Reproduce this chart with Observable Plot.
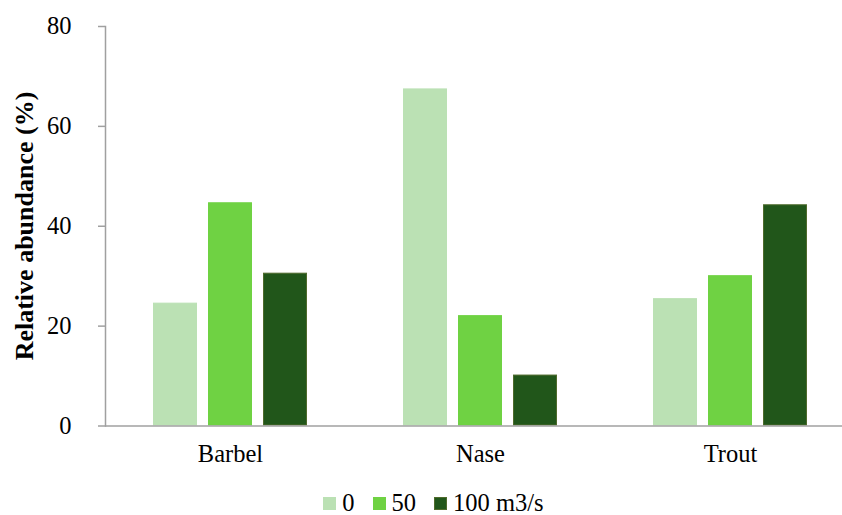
<!DOCTYPE html>
<html>
<head>
<meta charset="utf-8">
<script src="https://cdn.jsdelivr.net/npm/d3@7"></script>
<script src="https://cdn.jsdelivr.net/npm/@observablehq/plot@0.6"></script>
<style>
  html, body { margin: 0; padding: 0; background: #fff; overflow: hidden; }
  #chart { width: 842px; height: 515px; position: relative; overflow: hidden; }
  #chart svg { max-width: none !important; }
  .legend { position: absolute; left: 0; top: 492px; width: 842px; box-sizing: border-box; padding-left: 25px; display: flex; justify-content: center; font-family: "Liberation Serif", "Times New Roman", serif; font-size: 24.5px; line-height: 22px; color: #000; }
  .legend .item { display: flex; align-items: center; margin: 0 9px; }
  .legend .sw { width: 13px; height: 13px; margin-right: 6px; box-sizing: border-box; }
</style>
</head>
<body>
<div id="chart"></div>
<script>
const species = ["Barbel", "Nase", "Trout"];
const flows = ["0", "50", "100 m3/s"];
const values0 = [24.6, 67.5, 25.5];
const values50 = [44.7, 22.1, 30.1];
const values100 = [30.6, 10.2, 44.3];
const colors = ["#bbe1b4", "#6fd243", "#21561a"];
const strokes = ["#bbe1b4", "#6fd243", "#4f6b2c"];
const yTicks = [0, 20, 40, 60, 80];

const seriesVals = [values0, values50, values100];
const data = [];
species.forEach((s, i) => flows.forEach((f, j) => data.push({species: s, flow: f, value: seriesVals[j][i]})));

const plot = Plot.plot({
  width: 855,
  height: 475,
  marginLeft: 105,
  marginRight: 0,
  marginTop: 26,
  marginBottom: 49.5,
  style: {fontFamily: "'Liberation Serif', 'Times New Roman', serif", fontSize: "24.5px", color: "#000", background: "#fff", maxWidth: "none"},
  fx: {domain: species, padding: 0, label: null, axis: "bottom", tickSize: 0, tickPadding: 19},
  x: {domain: flows, paddingInner: 0.2, paddingOuter: 0.86, axis: null},
  y: {domain: [0, 80], ticks: yTicks, label: null},
  color: {domain: flows, range: colors},
  marks: [
    Plot.barY(data, {fx: "species", x: "flow", y: "value", fill: "flow", stroke: (d) => strokes[flows.indexOf(d.flow)], strokeWidth: 1, inset: 0.5}),
    Plot.ruleY([0], {stroke: "#a0a0a0", strokeWidth: 1.5}),
    Plot.frame({anchor: "left", facetAnchor: "left", stroke: "#a0a0a0", strokeWidth: 1.5}),
    Plot.axisY({ticks: yTicks, tickSize: 7, tickPadding: 27, stroke: "#a0a0a0", strokeOpacity: 1, strokeWidth: 1.5, fontSize: "24.5px", label: null})
  ]
});
plot.style.maxWidth = "none";
document.getElementById("chart").appendChild(plot);

// y title
const title = document.createElement("div");
title.textContent = "Relative abundance (%)";
Object.assign(title.style, {position: "absolute", left: "25px", top: "226px", transform: "translate(-50%, -50%) rotate(-90deg)", whiteSpace: "nowrap", fontFamily: "'Liberation Serif', 'Times New Roman', serif", fontWeight: "bold", fontSize: "26px"});
document.getElementById("chart").appendChild(title);

// legend
const legend = document.createElement("div");
legend.className = "legend";
flows.forEach((f, i) => {
  const it = document.createElement("div"); it.className = "item";
  const sw = document.createElement("div"); sw.className = "sw"; sw.style.background = colors[i]; sw.style.border = "1px solid " + strokes[i];
  const tx = document.createElement("span"); tx.textContent = f;
  it.appendChild(sw); it.appendChild(tx); legend.appendChild(it);
});
document.getElementById("chart").appendChild(legend);
</script>
</body>
</html>
